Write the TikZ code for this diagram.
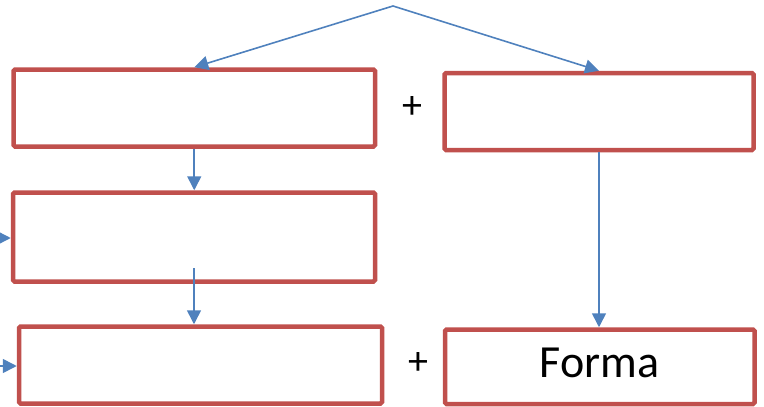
\documentclass[tikz,border=0pt]{standalone}
\usepackage{fontspec}
\setmainfont{Carlito}
\usetikzlibrary{arrows.meta}
\definecolor{boxred}{HTML}{C0504D}
\definecolor{linkblue}{HTML}{4F81BD}
\begin{document}
\begin{tikzpicture}[x=1pt,y=-1pt,
  redbox/.style={draw=boxred,line width=4.5pt,rounded corners=1.5pt,rectangle,inner sep=0pt,fill=white},
  link/.style={draw=linkblue,line width=1.6pt,-{Triangle[length=14pt,width=14pt]}},
  plus/.style={font=\fontsize{40}{48}\selectfont,inner sep=0pt}]
\useasboundingbox (0,0) rectangle (764,407);
\node[redbox,minimum width=361.5pt,minimum height=77pt] (A) at (194.25,108) {};
\node[redbox,minimum width=309pt,minimum height=77pt] (B) at (599,111.5) {};
\node[redbox,minimum width=362pt,minimum height=89pt] (C) at (194,237) {};
\node[redbox,minimum width=363pt,minimum height=77pt] (D) at (200.5,365) {};
\node[redbox,minimum width=309.5pt,minimum height=74.5pt,font=\fontsize{46}{55}\selectfont,text height=30pt,text depth=9pt] (E) at (599.75,366.75) {Forma};
\node[plus] (p1) at (412,108) {+};
\node[plus] (p2) at (418,363) {+};
\coordinate (top) at (393,6);
\coordinate (cd) at (194,268);
\coordinate (lc) at (-4,238);
\coordinate (ld) at (-4,366);
\draw[link] (top) -- (A.north);
\draw[link] (top) -- (B.north);
\draw[link] (A.south) -- (A.south |- C.north);
\draw[link] (cd) -- (cd |- D.north);
\draw[link] (B.south) -- (B.south |- E.north);
\draw[link] (lc) -- (lc -| C.west);
\draw[link] (ld) -- (ld -| D.west);
\end{tikzpicture}
\end{document}
